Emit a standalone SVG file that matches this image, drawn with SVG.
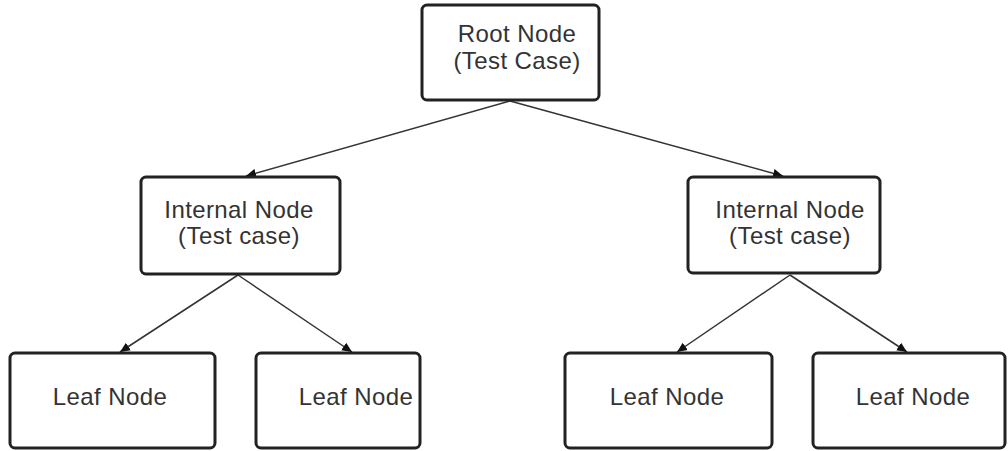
<svg xmlns="http://www.w3.org/2000/svg" width="1008" height="451" viewBox="0 0 1008 451">
<style>
.box{fill:#fff;stroke:#222;stroke-width:3}
.t{font-family:"Liberation Sans",Arial,sans-serif;font-size:24px;letter-spacing:0.4px;fill:#333;text-anchor:middle}
.c{stroke:#333;stroke-width:1.5;fill:none;marker-end:url(#ah)}
</style>
<defs>
<marker id="ah" viewBox="0 0 10 10" refX="10" refY="5" markerWidth="10" markerHeight="10" markerUnits="userSpaceOnUse" orient="auto">
<path d="M0,0.5 L10,5 L0,9.5 z" fill="#111"/>
</marker>
</defs>
<g id="connectors">
<line class="c" x1="510" y1="101" x2="246" y2="176"/>
<line class="c" x1="510" y1="101" x2="783" y2="176"/>
<line class="c" x1="238" y1="275" x2="120" y2="352"/>
<line class="c" x1="238" y1="275" x2="352" y2="352"/>
<line class="c" x1="790" y1="275" x2="677" y2="352"/>
<line class="c" x1="790" y1="275" x2="907" y2="352"/>
</g>
<g id="root">
<rect class="box" x="422" y="5" width="177" height="95" rx="5"/>
<text class="t" x="517" y="42">Root Node</text>
<text class="t" x="517" y="69">(Test Case)</text>
</g>
<g id="internal-left">
<rect class="box" x="141" y="177" width="199" height="97" rx="5"/>
<text class="t" x="239" y="218">Internal Node</text>
<text class="t" x="239" y="244">(Test case)</text>
</g>
<g id="internal-right">
<rect class="box" x="688" y="177" width="192" height="96" rx="5"/>
<text class="t" x="790" y="218">Internal Node</text>
<text class="t" x="790" y="244">(Test case)</text>
</g>
<g id="leaf-1">
<rect class="box" x="10" y="353" width="205" height="95" rx="5"/>
<text class="t" x="110" y="405">Leaf Node</text>
</g>
<g id="leaf-2">
<rect class="box" x="256" y="353" width="164" height="95" rx="5"/>
<text class="t" x="356" y="405">Leaf Node</text>
</g>
<g id="leaf-3">
<rect class="box" x="565" y="353" width="207" height="95" rx="5"/>
<text class="t" x="667" y="405">Leaf Node</text>
</g>
<g id="leaf-4">
<rect class="box" x="813" y="353" width="192" height="95" rx="5"/>
<text class="t" x="913" y="405">Leaf Node</text>
</g>
</svg>
